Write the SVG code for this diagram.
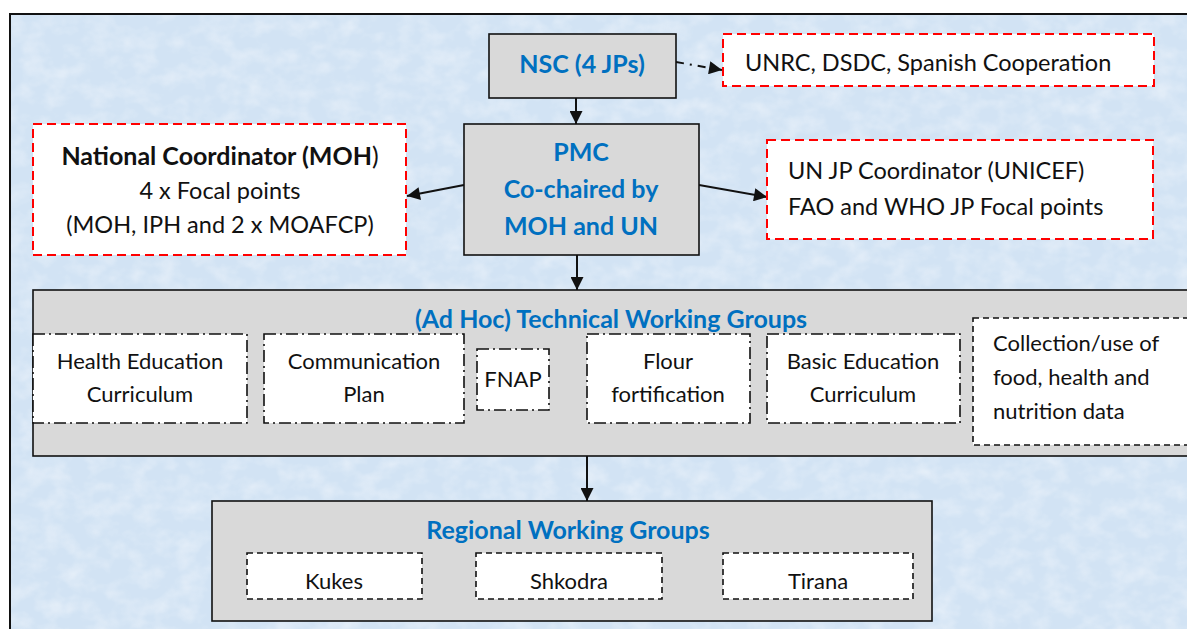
<svg xmlns="http://www.w3.org/2000/svg" width="1187" height="629" viewBox="0 0 1187 629">
  <style>
    .t { font-family: Lato, "Liberation Sans", sans-serif; font-size: 23.5px; fill: #111; }
    .s { font-size: 22px; }
    .c { text-anchor: middle; }
    .h { font-weight: bold; fill: #0070c0; font-size: 25px; }
    .b { font-weight: bold; font-size: 25px; }
    .grey { fill: #d9d9d9; stroke: #111; stroke-width: 1.6; }
    .red { fill: #fff; stroke: #ff0000; stroke-width: 2; stroke-dasharray: 9 5; }
    .dd { fill: #fff; stroke: #111; stroke-width: 1.6; stroke-dasharray: 12 4 2 4; }
    .ds { fill: #fff; stroke: #111; stroke-width: 1.6; stroke-dasharray: 6 4; }
    .ln { stroke: #111; stroke-width: 2; fill: none; }
  </style>
  <defs>
    <marker id="arrow" viewBox="0 0 10 10" refX="10" refY="5" markerWidth="16" markerHeight="13" markerUnits="userSpaceOnUse" orient="auto">
      <path d="M0,0 L10,5 L0,10 z" fill="#111"/>
    </marker>
    <filter id="mottle" x="0" y="0" width="100%" height="100%">
      <feTurbulence type="fractalNoise" baseFrequency="0.045 0.06" numOctaves="3" seed="7" result="n"/>
      <feColorMatrix in="n" type="matrix" values="0 0 0 0 1  0 0 0 0 1  0 0 0 0 1  0 0 0 -1.8 1.1" result="w"/>
      <feComposite in="w" in2="SourceGraphic" operator="in"/>
    </filter>
  </defs>

  <!-- page and frame -->
  <rect x="0" y="0" width="1187" height="629" fill="#ffffff"/>
  <rect x="10" y="14" width="1190" height="620" fill="#d2e3f4"/>
  <rect x="10" y="14" width="1190" height="620" fill="#d2e3f4" filter="url(#mottle)" opacity="0.4"/>
  <path d="M10,640 L10,14 L1190,14" class="ln" stroke-width="2.2"/>

  <!-- connectors -->
  <g id="connectors">
    <line x1="676" y1="62" x2="722" y2="70" class="ln" stroke-dasharray="8 6 2 6" marker-end="url(#arrow)"/>
    <line x1="576" y1="98" x2="576" y2="124" class="ln" marker-end="url(#arrow)"/>
    <line x1="464" y1="185" x2="407" y2="196" class="ln" marker-end="url(#arrow)"/>
    <line x1="699" y1="185" x2="767" y2="197" class="ln" marker-end="url(#arrow)"/>
    <line x1="577" y1="255" x2="577" y2="290" class="ln" marker-end="url(#arrow)"/>
    <line x1="587" y1="456" x2="587" y2="501" class="ln" marker-end="url(#arrow)"/>
  </g>

  <!-- NSC -->
  <g id="nsc">
    <rect x="489" y="34" width="187" height="64" class="grey"/>
    <text x="582" y="73" class="t c h">NSC (4 JPs)</text>
  </g>

  <!-- external partners -->
  <g id="partners">
    <rect x="723" y="34" width="431" height="52" class="red"/>
    <text x="745" y="71" class="t">UNRC, DSDC, Spanish Cooperation</text>
  </g>

  <!-- PMC -->
  <g id="pmc">
    <rect x="464" y="124" width="235" height="131" class="grey"/>
    <text x="581" y="161" class="t c h">PMC</text>
    <text x="581" y="198" class="t c h">Co-chaired by</text>
    <text x="581" y="235" class="t c h">MOH and UN</text>
  </g>

  <!-- national coordinator -->
  <g id="national">
    <rect x="33" y="124" width="373" height="131" class="red"/>
    <text x="220" y="165" class="t c"><tspan class="b">National Coordinator (MOH</tspan><tspan font-size="25px">)</tspan></text>
    <text x="220" y="199" class="t c">4 x Focal points</text>
    <text x="220" y="233" class="t c">(MOH, IPH and 2 x MOAFCP)</text>
  </g>

  <!-- UN coordination -->
  <g id="un-coordination">
    <rect x="767" y="140" width="386" height="99" class="red"/>
    <text x="788" y="179" class="t">UN JP Coordinator (UNICEF)</text>
    <text x="788" y="215" class="t">FAO and WHO JP Focal points</text>
  </g>

  <!-- technical working groups -->
  <g id="twg">
    <rect x="33" y="290" width="1170" height="166" class="grey"/>
    <text x="611" y="328" class="t c h">(Ad Hoc) Technical Working Groups</text>
  </g>
  <g id="twg-health">
    <rect x="33" y="334" width="214" height="89" class="dd"/>
    <text x="140" y="369" class="t s c">Health Education</text>
    <text x="140" y="402" class="t s c">Curriculum</text>
  </g>
  <g id="twg-communication">
    <rect x="264" y="334" width="200" height="89" class="dd"/>
    <text x="364" y="369" class="t s c">Communication</text>
    <text x="364" y="402" class="t s c">Plan</text>
  </g>
  <g id="twg-fnap">
    <rect x="477" y="349" width="72" height="61" class="dd"/>
    <text x="513" y="387" class="t s c">FNAP</text>
  </g>
  <g id="twg-flour">
    <rect x="587" y="334" width="163" height="89" class="dd"/>
    <text x="668" y="369" class="t s c">Flour</text>
    <text x="668" y="402" class="t s c">fortification</text>
  </g>
  <g id="twg-basic">
    <rect x="767" y="334" width="193" height="89" class="dd"/>
    <text x="863" y="369" class="t s c">Basic Education</text>
    <text x="863" y="402" class="t s c">Curriculum</text>
  </g>
  <g id="twg-data">
    <rect x="973" y="318" width="230" height="127" class="ds"/>
    <text x="993" y="351" class="t s">Collection/use of</text>
    <text x="993" y="385" class="t s">food, health and</text>
    <text x="993" y="419" class="t s">nutrition data</text>
  </g>

  <!-- regional working groups -->
  <g id="regional">
    <rect x="212" y="501" width="720" height="120" class="grey"/>
    <text x="568" y="539" class="t c h">Regional Working Groups</text>
  </g>
  <g id="region-kukes">
    <rect x="247" y="553" width="175" height="46" class="ds"/>
    <text x="334" y="589" class="t s c">Kukes</text>
  </g>
  <g id="region-shkodra">
    <rect x="476" y="553" width="186" height="46" class="ds"/>
    <text x="569" y="589" class="t s c">Shkodra</text>
  </g>
  <g id="region-tirana">
    <rect x="723" y="553" width="190" height="46" class="ds"/>
    <text x="818" y="589" class="t s c">Tirana</text>
  </g>
</svg>
